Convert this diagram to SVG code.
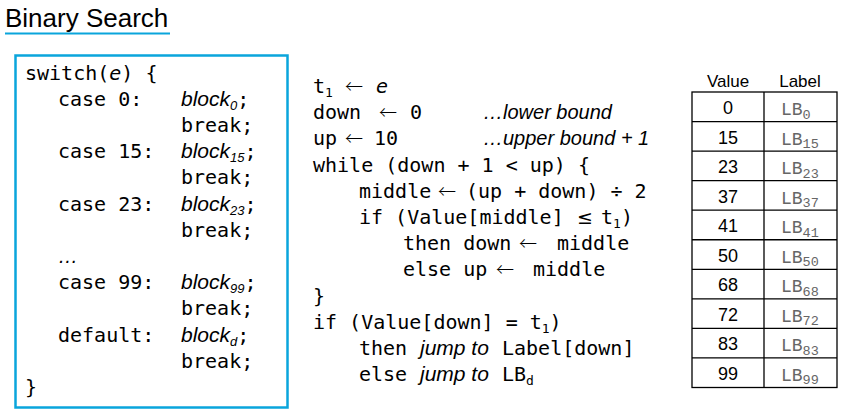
<svg xmlns="http://www.w3.org/2000/svg" width="846" height="415" viewBox="0 0 846 415">
<style>
.mono{font-family:"DejaVu Sans Mono",monospace;font-size:20px;fill:#000}
.it{font-family:"Liberation Sans",Arial,sans-serif;font-style:italic;font-size:21px}
.cm{font-family:"Liberation Sans",Arial,sans-serif;font-style:italic;font-size:20px}
.arr{font-family:"Noto Sans CJK SC","DejaVu Sans",sans-serif;font-size:18px;font-weight:300}
.rel{font-family:"DejaVu Sans",sans-serif;font-size:19px}
.sub{font-size:13px}
.hdr{font-family:"Liberation Sans",Arial,sans-serif;font-size:17px;text-anchor:middle}
.val{font-family:"Liberation Sans",Arial,sans-serif;font-size:18px;text-anchor:middle}
.lbl{font-family:"Liberation Mono",monospace;font-size:18px;fill:#666}
.lsub{font-size:13.5px}
.cyan{stroke:#0AA5DC;fill:none}
.grid{stroke:#000;stroke-width:1.3;fill:none}
</style>
<g id="title">
<text x="5" y="27" font-family="Liberation Sans, Arial, sans-serif" font-size="26">Binary Search</text>
<line x1="5" y1="33.5" x2="170" y2="33.5" class="cyan" stroke-width="2"/>
</g>
<g id="switch-box">
<rect x="15.5" y="55.5" width="272" height="352" class="cyan" stroke-width="2.5"/>
<text class="mono" x="25" y="79.5">switch(<tspan font-style="italic">e</tspan>) {</text>
<text class="mono" x="58" y="105.7">case 0:</text>
<text x="181" y="105.7"><tspan class="it">block</tspan><tspan class="it sub" dy="4">0</tspan><tspan class="mono" dy="-4">;</tspan></text>
<text class="mono" x="181" y="131.9">break;</text>
<text class="mono" x="58" y="158.1">case 15:</text>
<text x="181" y="158.1"><tspan class="it">block</tspan><tspan class="it sub" dy="4">15</tspan><tspan class="mono" dy="-4">;</tspan></text>
<text class="mono" x="181" y="184.3">break;</text>
<text class="mono" x="58" y="210.5">case 23:</text>
<text x="181" y="210.5"><tspan class="it">block</tspan><tspan class="it sub" dy="4">23</tspan><tspan class="mono" dy="-4">;</tspan></text>
<text class="mono" x="181" y="236.7">break;</text>
<text class="cm" x="58" y="262.9" font-style="normal">…</text>
<text class="mono" x="58" y="289.1">case 99:</text>
<text x="181" y="289.1"><tspan class="it">block</tspan><tspan class="it sub" dy="4">99</tspan><tspan class="mono" dy="-4">;</tspan></text>
<text class="mono" x="181" y="315.3">break;</text>
<text class="mono" x="58" y="341.5">default:</text>
<text x="181" y="341.5"><tspan class="it">block</tspan><tspan class="it sub" dy="4">d</tspan><tspan class="mono" dy="-4">;</tspan></text>
<text class="mono" x="181" y="367.7">break;</text>
<text class="mono" x="25" y="393.9">}</text>
</g>
<g id="pseudo-code">
<text class="mono" x="313" y="93">t<tspan class="sub" dy="4">1</tspan><tspan class="arr" x="345" dy="-4">←</tspan><tspan x="376" font-style="italic">e</tspan></text>
<text class="mono" x="313" y="119.2">down<tspan class="arr" x="379">←</tspan><tspan x="410">0</tspan></text>
<text class="cm" x="483" y="119.2">…lower bound</text>
<text class="mono" x="313" y="145.4">up<tspan class="arr" x="345">←</tspan><tspan x="374">10</tspan></text>
<text class="cm" x="483" y="145.4">…upper bound + 1</text>
<text class="mono" x="313" y="171.6">while (down + 1 &lt; up) {</text>
<text class="mono" x="359" y="197.8">middle<tspan class="arr" x="438">←</tspan><tspan x="466">(up + down) ÷ 2</tspan></text>
<text class="mono" x="359" y="224">if (Value[middle]<tspan class="rel" x="577">≤</tspan><tspan x="601">t</tspan><tspan class="sub" dy="4">1</tspan><tspan dy="-4">)</tspan></text>
<text class="mono" x="403" y="250.2">then down<tspan class="arr" x="519">←</tspan><tspan x="557">middle</tspan></text>
<text class="mono" x="403" y="276.4">else up<tspan class="arr" x="496">←</tspan><tspan x="533">middle</tspan></text>
<text class="mono" x="313" y="302.6">}</text>
<text class="mono" x="313" y="328.8">if (Value[down] = t<tspan class="sub" dy="4">1</tspan><tspan dy="-4">)</tspan></text>
<text class="mono" x="359" y="355">then</text>
<text class="it" x="420" y="355">jump to</text>
<text class="mono" x="502" y="355">Label[down]</text>
<text class="mono" x="359" y="381.2">else</text>
<text class="it" x="420" y="381.2">jump to</text>
<text class="mono" x="502" y="381.2">LB<tspan class="sub" dy="4">d</tspan></text>
</g>
<g id="table">
<text class="hdr" x="728" y="87">Value</text>
<text class="hdr" x="800" y="87">Label</text>
<rect class="grid" x="692" y="92" width="145" height="295.5"/>
<line class="grid" x1="764" y1="92" x2="764" y2="387.5"/>
<line class="grid" x1="692" y1="121.55" x2="837" y2="121.55"/>
<line class="grid" x1="692" y1="151.1" x2="837" y2="151.1"/>
<line class="grid" x1="692" y1="180.65" x2="837" y2="180.65"/>
<line class="grid" x1="692" y1="210.2" x2="837" y2="210.2"/>
<line class="grid" x1="692" y1="239.75" x2="837" y2="239.75"/>
<line class="grid" x1="692" y1="269.3" x2="837" y2="269.3"/>
<line class="grid" x1="692" y1="298.85" x2="837" y2="298.85"/>
<line class="grid" x1="692" y1="328.4" x2="837" y2="328.4"/>
<line class="grid" x1="692" y1="357.95" x2="837" y2="357.95"/>
<text class="val" x="728" y="114">0</text>
<text class="val" x="728" y="143.5">15</text>
<text class="val" x="728" y="173.1">23</text>
<text class="val" x="728" y="202.6">37</text>
<text class="val" x="728" y="232.2">41</text>
<text class="val" x="728" y="261.7">50</text>
<text class="val" x="728" y="291.3">68</text>
<text class="val" x="728" y="320.8">72</text>
<text class="val" x="728" y="350.4">83</text>
<text class="val" x="728" y="379.9">99</text>
<text class="lbl" x="781" y="115">LB<tspan class="lsub" dy="3.5">0</tspan></text>
<text class="lbl" x="781" y="144.5">LB<tspan class="lsub" dy="3.5">15</tspan></text>
<text class="lbl" x="781" y="174.1">LB<tspan class="lsub" dy="3.5">23</tspan></text>
<text class="lbl" x="781" y="203.6">LB<tspan class="lsub" dy="3.5">37</tspan></text>
<text class="lbl" x="781" y="233.2">LB<tspan class="lsub" dy="3.5">41</tspan></text>
<text class="lbl" x="781" y="262.7">LB<tspan class="lsub" dy="3.5">50</tspan></text>
<text class="lbl" x="781" y="292.3">LB<tspan class="lsub" dy="3.5">68</tspan></text>
<text class="lbl" x="781" y="321.8">LB<tspan class="lsub" dy="3.5">72</tspan></text>
<text class="lbl" x="781" y="351.4">LB<tspan class="lsub" dy="3.5">83</tspan></text>
<text class="lbl" x="781" y="380.9">LB<tspan class="lsub" dy="3.5">99</tspan></text>
</g>
</svg>
